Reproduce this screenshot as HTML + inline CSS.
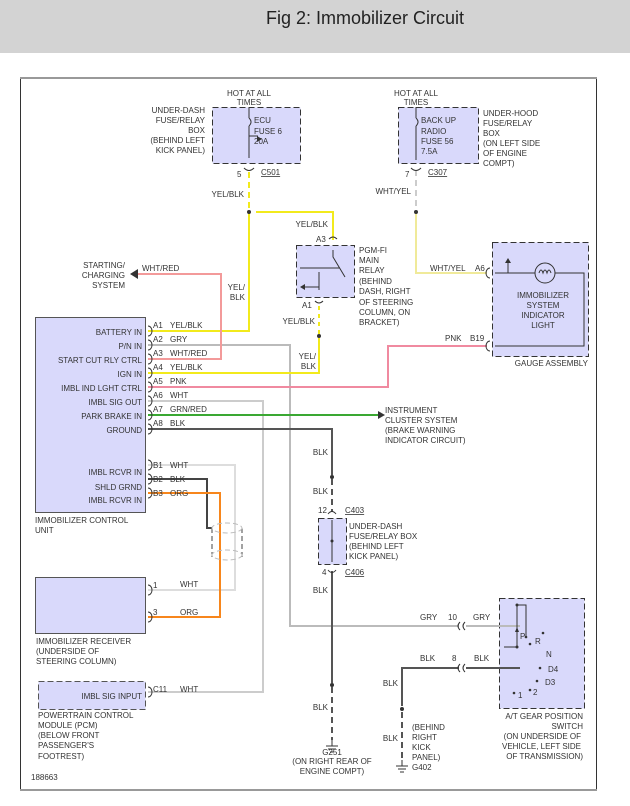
<!DOCTYPE html>
<html><head><meta charset="utf-8"><style>
body{margin:0;background:#fff;width:630px;height:801px;overflow:hidden}
svg text{font-family:"Liberation Sans",sans-serif;font-size:8px;fill:#333}
</style></head><body>
<svg width="630" height="801" xmlns="http://www.w3.org/2000/svg">
<rect x="0" y="0" width="630" height="53" fill="#d3d3d3"/>
<text x="365" y="24" text-anchor="middle" style="font-size:18px;fill:#222">Fig 2: Immobilizer Circuit</text>
<rect x="20.5" y="77.5" width="576" height="713" fill="#fff" stroke="#333"/>
<line x1="20" y1="78" x2="597" y2="78" stroke="#999" stroke-width="2"/>
<line x1="20" y1="790" x2="597" y2="790" stroke="#999" stroke-width="2"/>
<g fill="#d9d9fb">
<rect x="35.5" y="317.5" width="110" height="195" stroke="#555"/>
<rect x="35.5" y="577.5" width="110" height="56" stroke="#555"/>
<rect x="38.5" y="681.5" width="107" height="28" stroke="#555" stroke-dasharray="6,3"/>
<rect x="212.5" y="107.5" width="88" height="56" stroke="#333" stroke-dasharray="6,3"/>
<rect x="398.5" y="107.5" width="80" height="56" stroke="#333" stroke-dasharray="6,3"/>
<rect x="296.5" y="245.5" width="58" height="52" stroke="#333" stroke-dasharray="6,3"/>
<rect x="492.5" y="242.5" width="96" height="114" stroke="#333" stroke-dasharray="6,3"/>
<rect x="318.5" y="518.5" width="28" height="46" stroke="#333" stroke-dasharray="6,3"/>
<rect x="499.5" y="598.5" width="85" height="110" stroke="#333" stroke-dasharray="6,3"/>
</g>
<g fill="none" stroke-width="2">
<path d="M148 331H249V212" stroke="#f2ea1c"/>
<path d="M249 208V170" stroke="#f2ea1c" stroke-dasharray="6,4"/>
<path d="M256 212H333V240" stroke="#f2ea1c"/>
<path d="M148 345H290V626H459M466 626H520" stroke="#bbb"/>
<path d="M148 359H221V274H136" stroke="#f39a9a"/>
<path d="M148 373H319V338" stroke="#f2ea1c"/>
<path d="M319 334V302" stroke="#f2ea1c" stroke-dasharray="4,4"/>
<path d="M148 387H388V346H487" stroke="#f08aa0"/>
<path d="M148 401H263V692H148" stroke="#ccc"/>
<path d="M148 415H378" stroke="#3aa832"/>
<path d="M148 429H332V475" stroke="#555"/>
<path d="M332 479V512" stroke="#555" stroke-dasharray="6,4"/>
<path d="M332 571V683" stroke="#555"/>
<path d="M332 687V740" stroke="#555" stroke-dasharray="6,4"/>
<path d="M148 465H235V590H148" stroke="#ddd"/>
<path d="M148 479H207V528H212" stroke="#444"/>
<path d="M148 493H220V617H148" stroke="#f7861c"/>
<path d="M416 170V208" stroke="#ccc" stroke-dasharray="6,4"/>
<path d="M416 212V273H487" stroke="#f0ea9a"/>
<path d="M459 668H402V706M466 668H520" stroke="#555"/>
<path d="M402 712V760" stroke="#555" stroke-dasharray="6,4"/>
</g>
<g fill="none" stroke="#444" stroke-dasharray="5,3">
<path d="M212 528V560M242 528V560"/>
<ellipse cx="227" cy="528" rx="15" ry="5" stroke="#bbb"/>
<ellipse cx="227" cy="555" rx="15" ry="5" stroke="#bbb"/>
</g>
<g stroke="#333" fill="none" stroke-width="1">
<path d="M249 107V118M249 126V158M249 136H258"/>
<path d="M249 118q4 4 0 8"/>
<path d="M416 107V118M416 126V160M416 118q4 4 0 8"/>
<path d="M333 250V257l12 20M300 268H340M319 272V290M319 287H302"/>
<path d="M495 273H535M508 273V260M555 273H584V346H495"/>
<circle cx="545" cy="273" r="10"/>
<path d="M539 273q2-6 4 0q2-6 4 0q2-6 4 0"/>
<path d="M332 520V562"/>
<path d="M517 605H526V637M517 605V647M504 647H517"/>
<path d="M148 326a4 5 0 0 1 0 10M148 340a4 5 0 0 1 0 10M148 354a4 5 0 0 1 0 10M148 368a4 5 0 0 1 0 10M148 382a4 5 0 0 1 0 10M148 396a4 5 0 0 1 0 10M148 410a4 5 0 0 1 0 10M148 424a4 5 0 0 1 0 10M148 460a4 5 0 0 1 0 10M148 474a4 5 0 0 1 0 10M148 488a4 5 0 0 1 0 10M148 585a4 5 0 0 1 0 10M148 612a4 5 0 0 1 0 10M148 687a4 5 0 0 1 0 10"/>
<path d="M490 268a4 5 0 0 0 0 10M490 341a4 5 0 0 0 0 10"/>
</g>
<g fill="#333">
<circle cx="249" cy="212" r="2"/><circle cx="416" cy="212" r="2"/><circle cx="319" cy="336" r="2"/>
<circle cx="332" cy="477" r="2"/><circle cx="332" cy="685" r="2"/><circle cx="402" cy="709" r="2"/><circle cx="332" cy="541" r="1.5"/>
<circle cx="517" cy="605" r="1.5"/><circle cx="517" cy="647" r="1.5"/><circle cx="530" cy="644" r="1.3"/>
<circle cx="543" cy="633" r="1.3"/><circle cx="540" cy="668" r="1.3"/><circle cx="537" cy="681" r="1.3"/>
<circle cx="514" cy="693" r="1.3"/><circle cx="530" cy="690" r="1.3"/><circle cx="526" cy="637" r="1.3"/>
<path d="M130 274l8-5v10z"/><path d="M385 415l-7-4v8z"/><path d="M262 139l-5-3v6z"/>
<path d="M517 627l-2 5h4z"/><path d="M508 258l-3 5h6z"/><path d="M300 287l5-3v6z"/>
</g>
<g>
<text x="249" y="96" text-anchor="middle">HOT AT ALL</text><text x="249" y="105" text-anchor="middle">TIMES</text>
<text x="205" y="113" text-anchor="end">UNDER-DASH</text><text x="205" y="123" text-anchor="end">FUSE/RELAY</text><text x="205" y="133" text-anchor="end">BOX</text><text x="205" y="143" text-anchor="end">(BEHIND LEFT</text><text x="205" y="153" text-anchor="end">KICK PANEL)</text>
<text x="254" y="123">ECU</text><text x="254" y="134">FUSE 6</text><text x="254" y="144">20A</text>
<text x="237" y="177">5</text><text x="261" y="175" text-decoration="underline">C501</text>
<text x="244" y="197" text-anchor="end">YEL/BLK</text>
<text x="328" y="227" text-anchor="end">YEL/BLK</text>
<text x="316" y="242">A3</text><text x="302" y="308">A1</text>
<text x="315" y="324" text-anchor="end">YEL/BLK</text>
<text x="316" y="359" text-anchor="end">YEL/</text><text x="316" y="369" text-anchor="end">BLK</text>
<text x="245" y="290" text-anchor="end">YEL/</text><text x="245" y="300" text-anchor="end">BLK</text>
<text x="359" y="253">PGM-FI</text><text x="359" y="263">MAIN</text><text x="359" y="273">RELAY</text><text x="359" y="284">(BEHIND</text><text x="359" y="294">DASH, RIGHT</text><text x="359" y="305">OF STEERING</text><text x="359" y="315">COLUMN, ON</text><text x="359" y="325">BRACKET)</text>
<text x="416" y="96" text-anchor="middle">HOT AT ALL</text><text x="416" y="105" text-anchor="middle">TIMES</text>
<text x="421" y="123">BACK UP</text><text x="421" y="134">RADIO</text><text x="421" y="144">FUSE 56</text><text x="421" y="154">7.5A</text>
<text x="483" y="116">UNDER-HOOD</text><text x="483" y="126">FUSE/RELAY</text><text x="483" y="136">BOX</text><text x="483" y="146">(ON LEFT SIDE</text><text x="483" y="156">OF ENGINE</text><text x="483" y="166">COMPT)</text>
<text x="405" y="177">7</text><text x="428" y="175" text-decoration="underline">C307</text>
<text x="411" y="194" text-anchor="end">WHT/YEL</text>
<text x="430" y="271">WHT/YEL</text><text x="475" y="271">A6</text>
<text x="445" y="341">PNK</text><text x="470" y="341">B19</text>
<text x="543" y="298" text-anchor="middle">IMMOBILIZER</text><text x="543" y="308" text-anchor="middle">SYSTEM</text><text x="543" y="318" text-anchor="middle">INDICATOR</text><text x="543" y="328" text-anchor="middle">LIGHT</text>
<text x="588" y="366" text-anchor="end">GAUGE ASSEMBLY</text>
<text x="125" y="268" text-anchor="end">STARTING/</text><text x="125" y="278" text-anchor="end">CHARGING</text><text x="125" y="288" text-anchor="end">SYSTEM</text>
<text x="142" y="271">WHT/RED</text>
<g text-anchor="end">
<text x="142" y="335">BATTERY IN</text><text x="142" y="349">P/N IN</text><text x="142" y="363">START CUT RLY CTRL</text><text x="142" y="377">IGN IN</text><text x="142" y="391">IMBL IND LGHT CTRL</text><text x="142" y="405">IMBL SIG OUT</text><text x="142" y="419">PARK BRAKE IN</text><text x="142" y="433">GROUND</text>
<text x="142" y="475">IMBL RCVR IN</text><text x="142" y="490">SHLD GRND</text><text x="142" y="503">IMBL RCVR IN</text>
<text x="142" y="699">IMBL SIG INPUT</text>
</g>
<g>
<text x="153" y="328">A1</text><text x="170" y="328">YEL/BLK</text>
<text x="153" y="342">A2</text><text x="170" y="342">GRY</text>
<text x="153" y="356">A3</text><text x="170" y="356">WHT/RED</text>
<text x="153" y="370">A4</text><text x="170" y="370">YEL/BLK</text>
<text x="153" y="384">A5</text><text x="170" y="384">PNK</text>
<text x="153" y="398">A6</text><text x="170" y="398">WHT</text>
<text x="153" y="412">A7</text><text x="170" y="412">GRN/RED</text>
<text x="153" y="426">A8</text><text x="170" y="426">BLK</text>
<text x="153" y="468">B1</text><text x="170" y="468">WHT</text>
<text x="153" y="482">B2</text><text x="170" y="482">BLK</text>
<text x="153" y="496">B3</text><text x="170" y="496">ORG</text>
<text x="153" y="588">1</text><text x="180" y="587">WHT</text>
<text x="153" y="615">3</text><text x="180" y="615">ORG</text>
<text x="153" y="692">C11</text><text x="180" y="692">WHT</text>
</g>
<text x="35" y="523">IMMOBILIZER CONTROL</text><text x="35" y="533">UNIT</text>
<text x="36" y="644">IMMOBILIZER RECEIVER</text><text x="36" y="654">(UNDERSIDE OF</text><text x="36" y="664">STEERING COLUMN)</text>
<text x="38" y="718">POWERTRAIN CONTROL</text><text x="38" y="728">MODULE (PCM)</text><text x="38" y="738">(BELOW FRONT</text><text x="38" y="748">PASSENGER'S</text><text x="38" y="759">FOOTREST)</text>
<text x="31" y="780">188663</text>
<text x="385" y="413">INSTRUMENT</text><text x="385" y="423">CLUSTER SYSTEM</text><text x="385" y="433">(BRAKE WARNING</text><text x="385" y="443">INDICATOR CIRCUIT)</text>
<text x="328" y="455" text-anchor="end">BLK</text><text x="328" y="494" text-anchor="end">BLK</text>
<text x="318" y="513">12</text><text x="345" y="513" text-decoration="underline">C403</text>
<text x="349" y="529">UNDER-DASH</text><text x="349" y="539">FUSE/RELAY BOX</text><text x="349" y="549">(BEHIND LEFT</text><text x="349" y="559">KICK PANEL)</text>
<text x="322" y="575">4</text><text x="345" y="575" text-decoration="underline">C406</text>
<text x="328" y="593" text-anchor="end">BLK</text><text x="328" y="710" text-anchor="end">BLK</text>
<text x="332" y="755" text-anchor="middle">G251</text><text x="332" y="764" text-anchor="middle">(ON RIGHT REAR OF</text><text x="332" y="774" text-anchor="middle">ENGINE COMPT)</text>
<text x="420" y="620">GRY</text><text x="448" y="620">10</text><text x="473" y="620">GRY</text>
<text x="420" y="661">BLK</text><text x="452" y="661">8</text><text x="474" y="661">BLK</text>
<text x="398" y="686" text-anchor="end">BLK</text><text x="398" y="741" text-anchor="end">BLK</text>
<text x="412" y="730">(BEHIND</text><text x="412" y="740">RIGHT</text><text x="412" y="750">KICK</text><text x="412" y="760">PANEL)</text>
<text x="412" y="770">G402</text>
<text x="520" y="639">P</text><text x="535" y="644">R</text><text x="546" y="657">N</text><text x="548" y="672">D4</text><text x="545" y="685">D3</text><text x="518" y="698">1</text><text x="533" y="695">2</text>
<text x="583" y="719" text-anchor="end">A/T GEAR POSITION</text><text x="583" y="729" text-anchor="end">SWITCH</text><text x="581" y="739" text-anchor="end">(ON UNDERSIDE OF</text><text x="581" y="749" text-anchor="end">VEHICLE, LEFT SIDE</text><text x="583" y="759" text-anchor="end">OF TRANSMISSION)</text>
</g>
<g stroke="#333" fill="none">
<path d="M326 746h12M328 749h8M330 752h4M332 740v6"/>
<path d="M396 766h12M398 769h8M400 772h4M402 760v6"/>
<path d="M460 622q-4 4 0 8M465 622q-4 4 0 8M460 664q-4 4 0 8M465 664q-4 4 0 8"/>
<path d="M244 168q5 5 10 0M411 168q5 5 10 0M328 514q4-5 8 0M328 570q4 5 8 0M329 239q4-4 8 0M315 301q4 4 8 0"/>
</g>
</svg>
</body></html>
